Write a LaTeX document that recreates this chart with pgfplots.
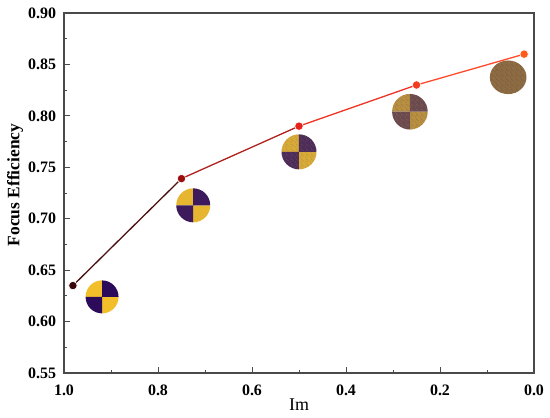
\documentclass[border=0pt]{standalone}
\usepackage{fontspec}
\setmainfont{Liberation Serif}
\usepackage{pgfplots}
\pgfplotsset{compat=1.18}
\usetikzlibrary{patterns}

\definecolor{axgray}{HTML}{4A4A4A}
\definecolor{p1c}{HTML}{3A0808}
\definecolor{p2c}{HTML}{9A0E0E}
\definecolor{p3c}{HTML}{E8201A}
\definecolor{p4c}{HTML}{F53A22}
\definecolor{p5c}{HTML}{FF5A1A}
\definecolor{s1c}{HTML}{4A0F0F}
\definecolor{s2c}{HTML}{B0201A}
\definecolor{s3c}{HTML}{EE3322}
\definecolor{s4c}{HTML}{FF4A2A}

% disc colours (yellow / purple) for increasing noise
\definecolor{y1}{HTML}{F2BE2A}\definecolor{u1}{HTML}{2C0C5A}
\definecolor{y2}{HTML}{E6B630}\definecolor{u2}{HTML}{3C1A5C}
\definecolor{y3}{HTML}{D8AA38}\definecolor{u3}{HTML}{4C2C5A}
\definecolor{y4}{HTML}{B89040}\definecolor{u4}{HTML}{6A4A50}
\definecolor{y5}{HTML}{8E6C42}

\pgfdeclarepatternformonly{noiseS}{\pgfpointorigin}{\pgfqpoint{5bp}{5bp}}{\pgfqpoint{5bp}{5bp}}{%
  \pgfpathrectangle{\pgfqpoint{0.4bp}{0.7bp}}{\pgfqpoint{0.9bp}{0.9bp}}%
  \pgfpathrectangle{\pgfqpoint{3.1bp}{2.2bp}}{\pgfqpoint{0.8bp}{0.8bp}}%
  \pgfpathrectangle{\pgfqpoint{1.6bp}{3.9bp}}{\pgfqpoint{0.9bp}{0.8bp}}%
  \pgfusepath{fill}}

% quadrant path: radius, start angle, end angle
\newcommand{\qpath}[3]{%
  \pgfpathmoveto{\pgfpointorigin}%
  \pgfpathlineto{\pgfpointpolar{#2}{#1}}%
  \pgfpatharc{#2}{#3}{#1}%
  \pgfpathclose}
% yellow quadrants (top-left, bottom-right)
\newcommand{\yq}[1]{\qpath{#1}{90}{180}\qpath{#1}{270}{360}}
% purple quadrants (top-right, bottom-left)
\newcommand{\uq}[1]{\qpath{#1}{0}{90}\qpath{#1}{180}{270}}
% full disc: radius, yellow, purple
\newcommand{\basedisc}[3]{%
  \pgfscope\pgfsetfillcolor{#2}\yq{#1}\pgfusepath{fill}\endpgfscope
  \pgfscope\pgfsetfillcolor{#3}\uq{#1}\pgfusepath{fill}\endpgfscope}
% noise: radius, colour on yellow, colour on purple
\newcommand{\noisedisc}[3]{%
  \pgfscope\pgfsetfillpattern{noiseS}{#2}\yq{#1}\pgfusepath{fill}\endpgfscope
  \pgfscope\pgfsetfillpattern{noiseS}{#3}\uq{#1}\pgfusepath{fill}\endpgfscope}

\pgfdeclareplotmark{discA}{\basedisc{16.5bp}{y1}{u1}}
\pgfdeclareplotmark{discB}{\basedisc{17bp}{y2}{u2}}
\pgfdeclareplotmark{discC}{\basedisc{17.5bp}{y3}{u3}\noisedisc{17.5bp}{y3!70!u1}{u3!70!y1}}
\pgfdeclareplotmark{discD}{\basedisc{17.8bp}{y4}{u4}\noisedisc{17.8bp}{y4!60!u1}{u4!60!y1}}
\pgfdeclareplotmark{discE}{%
  \pgfscope\pgfsetfillcolor{y5}%
  \pgfpathellipse{\pgfpointorigin}{\pgfqpoint{18.3bp}{0bp}}{\pgfqpoint{0bp}{16.8bp}}\pgfusepath{fill}\endpgfscope
  \pgfscope\pgfsetfillpattern{noiseS}{y5!60!u1}%
  \pgfpathellipse{\pgfpointorigin}{\pgfqpoint{18.3bp}{0bp}}{\pgfqpoint{0bp}{16.8bp}}\pgfusepath{fill}\endpgfscope}

\begin{document}
\begin{tikzpicture}
\path[use as bounding box] (-64bp,-45bp) rectangle (486bp,373bp);
\begin{axis}[
  scale only axis,
  width=470bp, height=360bp,
  xmin=0, xmax=1, x dir=reverse,
  ymin=0.55, ymax=0.90,
  xtick={0,0.2,0.4,0.6,0.8,1.0},
  ytick={0.55,0.60,0.65,0.70,0.75,0.80,0.85,0.90},
  minor x tick num=1, minor y tick num=1,
  xtick pos=bottom, ytick pos=left,
  tick align=inside,
  major tick length=6bp, minor tick length=3.5bp,
  every tick/.style={axgray, line width=0.9bp},
  axis line style={axgray, line width=1.3bp},
  /pgf/number format/assume math mode=true,
  ticklabel style={font=\fontsize{16}{18}\selectfont\bfseries, text=black},
  xticklabel style={/pgf/number format/fixed, /pgf/number format/fixed zerofill, /pgf/number format/precision=1, yshift=-8bp},
  yticklabel style={/pgf/number format/fixed, /pgf/number format/fixed zerofill, /pgf/number format/precision=2, xshift=-4.5bp},
  xlabel={Im},
  ylabel={Focus Efficiency},
  xlabel style={font=\fontsize{18}{20}\selectfont, at={(axis description cs:0.5,-0.089)}, anchor=center},
  ylabel style={font=\fontsize{17.5}{20}\selectfont\bfseries, at={(axis description cs:-0.104,0.522)}, anchor=center},
  clip=false,
]
% inset discs
\addplot[only marks, mark=discA] coordinates {(0.919,0.624)};
\addplot[only marks, mark=discB] coordinates {(0.725,0.713)};
\addplot[only marks, mark=discC] coordinates {(0.500,0.765)};
\addplot[only marks, mark=discD] coordinates {(0.264,0.804)};
\addplot[only marks, mark=discE] coordinates {(0.055,0.8375)};
% line segments
\addplot[s1c, line width=1.3bp, no marks] coordinates {(0.981,0.635) (0.750,0.739)};
\addplot[s2c, line width=1.3bp, no marks] coordinates {(0.750,0.739) (0.500,0.790)};
\addplot[s3c, line width=1.3bp, no marks] coordinates {(0.500,0.790) (0.250,0.830)};
\addplot[s4c, line width=1.3bp, no marks] coordinates {(0.250,0.830) (0.021,0.860)};
% points
\addplot[only marks, mark=*, mark size=4.2bp, mark options={draw=white, line width=0.6bp, fill=p1c}] coordinates {(0.981,0.635)};
\addplot[only marks, mark=*, mark size=4.2bp, mark options={draw=white, line width=0.6bp, fill=p2c}] coordinates {(0.750,0.739)};
\addplot[only marks, mark=*, mark size=4.2bp, mark options={draw=white, line width=0.6bp, fill=p3c}] coordinates {(0.500,0.790)};
\addplot[only marks, mark=*, mark size=4.2bp, mark options={draw=white, line width=0.6bp, fill=p4c}] coordinates {(0.250,0.830)};
\addplot[only marks, mark=*, mark size=4.2bp, mark options={draw=white, line width=0.6bp, fill=p5c}] coordinates {(0.021,0.860)};
\end{axis}
\end{tikzpicture}
\end{document}
